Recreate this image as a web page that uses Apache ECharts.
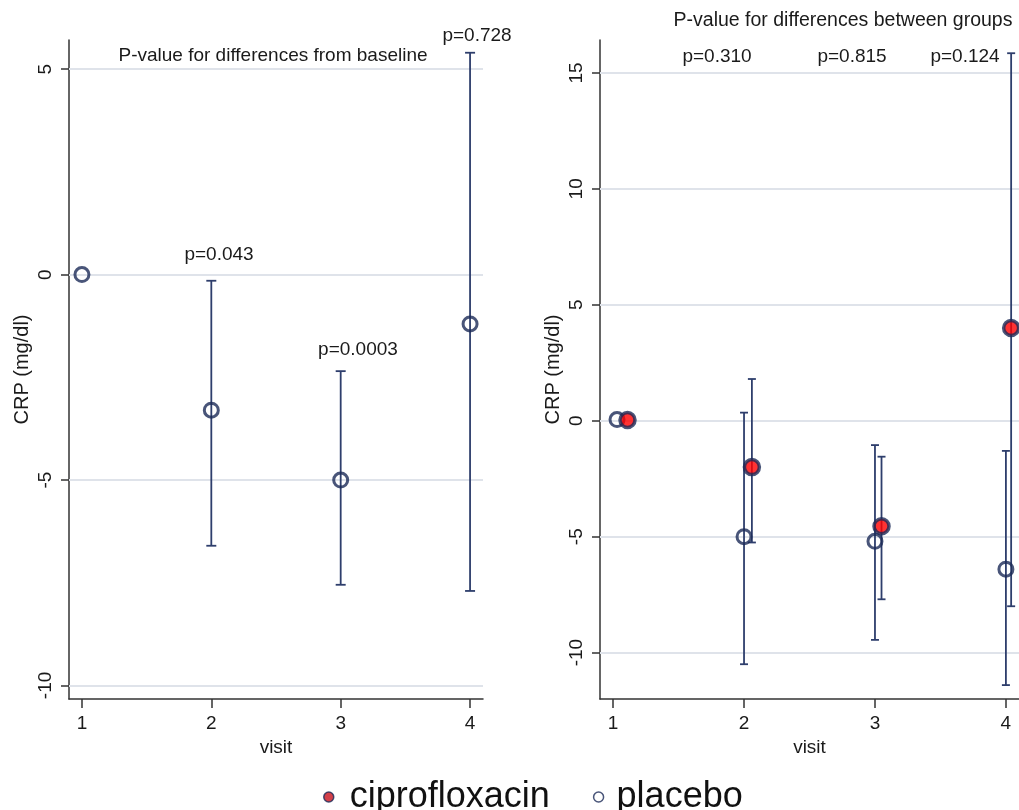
<!DOCTYPE html>
<html>
<head>
<meta charset="utf-8">
<title>CRP by visit</title>
<script src="https://cdn.jsdelivr.net/npm/echarts@6/dist/echarts.min.js"></script>
<style>
  html, body { margin: 0; padding: 0; background: #fff; }
  #chart { width: 1019px; height: 810px; }
</style>
</head>
<body>
<div id="chart"></div>
<script>
// ticks
var visits = [1, 2, 3, 4];
var yTicksLeft = [-10, -5, 0, 5];
var yTicksRight = [-10, -5, 0, 5, 10, 15];

// left panel: change from baseline
var baseX = [1, 2, 3, 4];
var baseMean = [0, -3.3, -5.0, -1.2];
var baseLow = [null, -6.6, -7.55, -7.7];
var baseHigh = [null, -0.15, -2.35, 5.4];

// right panel: groups
var placeboX = [1.03, 2.0, 3.0, 4.0];
var placeboMean = [0.05, -5.0, -5.2, -6.4];
var placeboLow = [null, -10.5, -9.45, -11.4];
var placeboHigh = [null, 0.35, -1.05, -1.3];
var ciproX = [1.11, 2.06, 3.05, 4.04];
var ciproMean = [0.03, -2.0, -4.55, 4.0];
var ciproLow = [null, -5.25, -7.7, -8.0];
var ciproHigh = [null, 1.8, -1.55, 15.85];

var navy = '#1b2a58';
var barColor = '#2e3e6c';
var gridColor = '#dfe3ea';
var axisColor = '#333';
var txt = '#1a1a1a';
var fontFam = '"Liberation Sans", Arial, sans-serif';

function points(xs, ys) {
	var out = [];
	for (var i = 0; i < xs.length; i++) out.push([xs[i], ys[i]]);
	return out;
}
function ranges(xs, lo, hi) {
	var out = [];
	for (var i = 0; i < xs.length; i++) {
		if (lo[i] != null) out.push([xs[i], lo[i], hi[i]]);
	}
	return out;
}
function capBars(capW) {
	return function (params, api) {
		var x = api.value(0);
		var a = api.coord([x, api.value(1)]);
		var b = api.coord([x, api.value(2)]);
		var st = { stroke: barColor, lineWidth: 1.8, fill: null };
		return {
			type: 'group',
			children: [
				{ type: 'line', shape: { x1: a[0], y1: a[1], x2: b[0], y2: b[1] }, style: st },
				{ type: 'line', shape: { x1: a[0] - capW, y1: a[1], x2: a[0] + capW, y2: a[1] }, style: st },
				{ type: 'line', shape: { x1: b[0] - capW, y1: b[1], x2: b[0] + capW, y2: b[1] }, style: st }
			]
		};
	};
}
function gridLines(ticks) {
	return {
		silent: true, symbol: 'none', z: 1,
		label: { show: false },
		lineStyle: { color: gridColor, width: 2, type: 'solid' },
		emphasis: { disabled: true },
		data: ticks.map(function (v) { return { yAxis: v }; })
	};
}
function xAxisCfg(idx) {
	return {
		gridIndex: idx, type: 'value', min: 0.9, max: 4.1,
		name: 'visit', nameLocation: 'middle', nameGap: 28,
		nameTextStyle: { fontSize: 19, color: txt, fontFamily: fontFam },
		axisLine: { show: true, onZero: false, lineStyle: { color: axisColor, width: 1.5 } },
		axisTick: { show: true, length: 9, customValues: visits, lineStyle: { color: axisColor, width: 1.5 } },
		axisLabel: { customValues: visits, fontSize: 19, color: txt, fontFamily: fontFam, margin: 15 },
		splitLine: { show: false }
	};
}
function yAxisCfg(idx, min, max, ticks) {
	return {
		gridIndex: idx, type: 'value', min: min, max: max,
		name: 'CRP (mg/dl)', nameLocation: 'middle', nameGap: 37,
		nameTextStyle: { fontSize: 20, color: txt, fontFamily: fontFam },
		axisLine: { show: true, onZero: false, lineStyle: { color: axisColor, width: 1.5 } },
		axisTick: { show: true, length: 8, customValues: ticks, lineStyle: { color: axisColor, width: 1.5 } },
		axisLabel: { customValues: ticks, rotate: 90, fontSize: 19, color: txt, fontFamily: fontFam, margin: 14 },
		splitLine: { show: false }
	};
}
function label(text, x, y, size) {
	return {
		type: 'text', x: x, y: y, silent: true,
		style: { text: text, fill: txt, font: (size || 19) + 'px ' + fontFam, align: 'center', verticalAlign: 'middle' }
	};
}

var hollow = { color: 'rgba(0,0,0,0)', borderColor: navy, borderWidth: 3 };
var filled = { color: '#ff0000', borderColor: navy, borderWidth: 3.5 };

var chart = echarts.init(document.getElementById('chart'));
chart.setOption({
	animation: false,
	textStyle: { fontFamily: fontFam },
	grid: [
		{ left: 69, top: 40, width: 414, height: 659 },
		{ left: 600, top: 40, width: 421, height: 659 }
	],
	xAxis: [xAxisCfg(0), xAxisCfg(1)],
	yAxis: [
		yAxisCfg(0, -10.33, 5.71, yTicksLeft),
		yAxisCfg(1, -12, 16.42, yTicksRight)
	],
	legend: {
		data: [
			{ name: 'ciprofloxacin', icon: 'circle', itemStyle: { color: '#c8101c', borderColor: navy, borderWidth: 1.5 }, textStyle: { padding: [0, 0, 0, 11] } },
			{ name: 'placebo', icon: 'circle', itemStyle: { color: '#fff', borderColor: navy, borderWidth: 1.5 }, textStyle: { padding: [0, 0, 0, 8] } }
		],
		left: 318, top: 774, itemWidth: 10, itemHeight: 10, itemGap: 43,
		selectedMode: false,
		textStyle: { fontSize: 36, color: '#111', fontFamily: fontFam }
	},
	graphic: [
		label('P-value for differences from baseline', 273, 56),
		label('p=0.043', 219, 255),
		label('p=0.0003', 358, 350),
		label('p=0.728', 477, 36),
		label('P-value for differences between groups', 843, 21, 19.5),
		label('p=0.310', 717, 57),
		label('p=0.815', 852, 57),
		label('p=0.124', 965, 57)
	],
	series: [
		{
			name: 'baseline CI', type: 'custom', xAxisIndex: 0, yAxisIndex: 0, z: 2, clip: false,
			renderItem: capBars(5), encode: { x: 0, y: [1, 2] },
			data: ranges(baseX, baseLow, baseHigh),
			markLine: gridLines(yTicksLeft)
		},
		{
			name: 'change', type: 'scatter', xAxisIndex: 0, yAxisIndex: 0, z: 3,
			symbol: 'circle', symbolSize: 14, itemStyle: hollow,
			data: points(baseX, baseMean)
		},
		{
			name: 'placebo CI', type: 'custom', xAxisIndex: 1, yAxisIndex: 1, z: 2, clip: false,
			renderItem: capBars(4), encode: { x: 0, y: [1, 2] },
			data: ranges(placeboX, placeboLow, placeboHigh),
			markLine: gridLines(yTicksRight)
		},
		{
			name: 'ciprofloxacin CI', type: 'custom', xAxisIndex: 1, yAxisIndex: 1, z: 2, clip: false,
			renderItem: capBars(4), encode: { x: 0, y: [1, 2] },
			data: ranges(ciproX, ciproLow, ciproHigh)
		},
		{
			name: 'placebo', type: 'scatter', xAxisIndex: 1, yAxisIndex: 1, z: 3,
			symbol: 'circle', symbolSize: 14, itemStyle: hollow,
			data: points(placeboX, placeboMean)
		},
		{
			name: 'ciprofloxacin', type: 'scatter', xAxisIndex: 1, yAxisIndex: 1, z: 4,
			symbol: 'circle', symbolSize: 15, itemStyle: filled,
			data: points(ciproX, ciproMean)
		}
	]
});
</script>
</body>
</html>
